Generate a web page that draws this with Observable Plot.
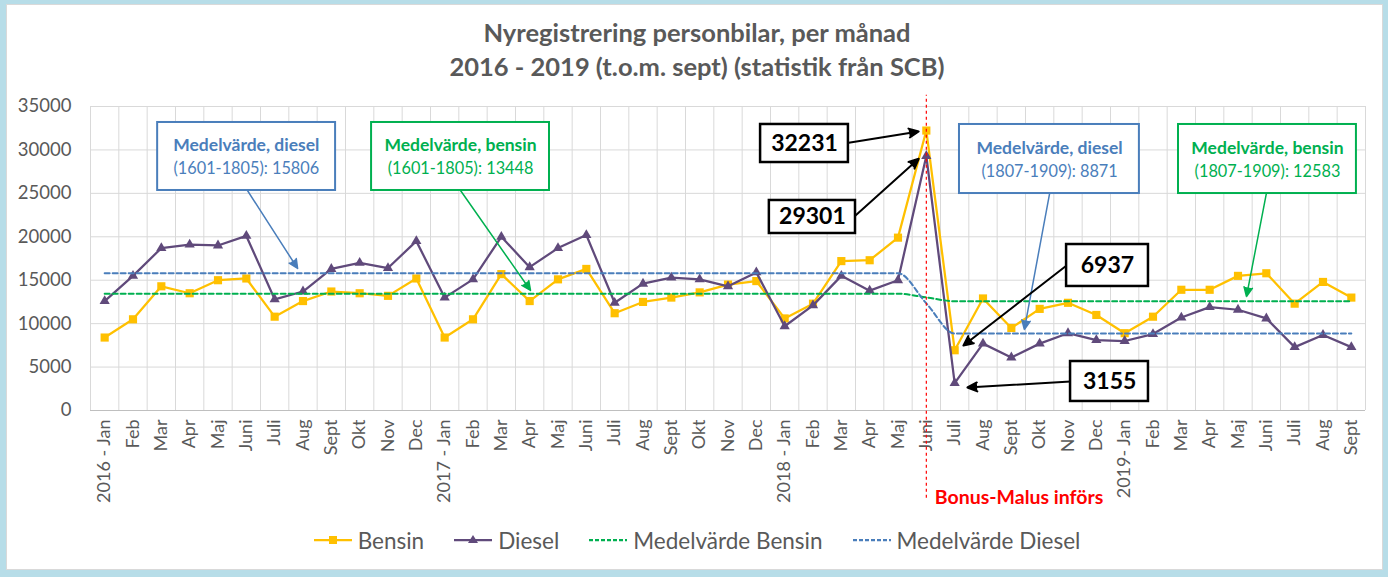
<!DOCTYPE html>
<html>
<head>
<meta charset="utf-8">
<script src="https://cdn.jsdelivr.net/npm/d3@7"></script>
<script src="https://cdn.jsdelivr.net/npm/@observablehq/plot@0.6"></script>
<style>
  html, body { margin: 0; padding: 0; background: #b7dde8; }
  #wrap { position: relative; width: 1388px; height: 577px; background: #b7dde8; overflow: hidden; font-family: Lato, "Open Sans", sans-serif; }
  #inner { position: absolute; left: 6px; top: 4px; right: 5px; bottom: 7px; background: #fff; border: 1px solid #d9d9d9; box-sizing: border-box; }
  #title { position: absolute; left: 3px; width: 1388px; top: 15px; text-align: center; color: #595959; font-weight: bold; font-size: 25.5px; line-height: 34px; }
  #plot { position: absolute; left: 0; top: 90px; }
  #legend { position: absolute; left: 3px; width: 1388px; top: 526px; height: 28px; display: flex; justify-content: center; align-items: center; color: #595959; font-size: 22.5px; }
  .item { display: flex; align-items: center; margin: 0 15px; }
  .item svg { margin-right: 6px; }
</style>
</head>
<body>
<div id="wrap">
  <div id="inner"></div>
  <div id="title">Nyregistrering personbilar, per månad<br>2016 - 2019 (t.o.m. sept) (statistik från SCB)</div>
  <div id="plot"></div>
  <div id="legend"></div>
</div>
<script>
// ---- data ----
const months = ["2016 - Jan","Feb","Mar","Apr","Maj","Juni","Juli","Aug","Sept","Okt","Nov","Dec",
  "2017 - Jan","Feb","Mar","Apr","Maj","Juni","Juli","Aug","Sept","Okt","Nov","Dec",
  "2018 - Jan","Feb","Mar","Apr","Maj","Juni","Juli","Aug","Sept","Okt","Nov","Dec",
  "2019- Jan","Feb","Mar","Apr","Maj","Juni","Juli","Aug","Sept"];

const bensin = [8400,10500,14300,13500,15000,15200,10800,12600,13700,13500,13200,15200,
  8400,10500,15700,12600,15100,16300,11200,12500,13000,13600,14500,14900,
  10600,12300,17200,17300,19900,32231,6937,12900,9500,11700,12400,11000,
  8900,10800,13900,13900,15500,15800,12300,14800,13000];

const diesel = [12600,15500,18700,19100,19000,20100,12800,13700,16300,17000,16400,19500,
  13000,15100,20000,16500,18700,20200,12400,14600,15300,15100,14300,15900,
  9700,12100,15500,13800,15000,29301,3155,7700,6100,7700,8900,8100,
  8000,8800,10700,11900,11600,10600,7300,8700,7300];

const medelBensin = [13448,13448,13448,13448,13448,13448,13448,13448,13448,13448,13448,13448,
  13448,13448,13448,13448,13448,13448,13448,13448,13448,13448,13448,13448,
  13448,13448,13448,13448,13448,13015,12583,12583,12583,12583,12583,12583,
  12583,12583,12583,12583,12583,12583,12583,12583,12583];

const medelDiesel = [15806,15806,15806,15806,15806,15806,15806,15806,15806,15806,15806,15806,
  15806,15806,15806,15806,15806,15806,15806,15806,15806,15806,15806,15806,
  15806,15806,15806,15806,15806,12338,8871,8871,8871,8871,8871,8871,
  8871,8871,8871,8871,8871,8871,8871,8871,8871];

const yTicks = [0,5000,10000,15000,20000,25000,30000,35000];

const seriesNames = ["Bensin","Diesel","Medelvärde Bensin","Medelvärde Diesel"];

// annotation layout (in data space: x = month index, y = value)
const BLUE = "#4a7ebb", GREEN = "#00b050", BLACK = "#000";
const meanBoxes = [
  {x1: 1.87, x2: 8.15, y1: 25330, y2: 33160, c: BLUE, t1: "Medelvärde, diesel", t2: "(1601-1805): 15806", tx: 5.0, ty1: 30510, ty2: 27860, ax: 5.04, ay: 25330, bx: 6.81, by: 16350},
  {x1: 9.42, x2: 15.70, y1: 25330, y2: 33160, c: GREEN, t1: "Medelvärde, bensin", t2: "(1601-1805): 13448", tx: 12.56, ty1: 30510, ty2: 27860, ax: 12.56, ay: 25330, bx: 15.03, by: 13820},
  {x1: 30.17, x2: 36.52, y1: 24980, y2: 32930, c: BLUE, t1: "Medelvärde, diesel", t2: "(1807-1909): 8871", tx: 33.35, ty1: 30160, ty2: 27440, ax: 33.35, ay: 24980, bx: 32.46, by: 9330},
  {x1: 37.90, x2: 44.18, y1: 24980, y2: 32930, c: GREEN, t1: "Medelvärde, bensin", t2: "(1807-1909): 12583", tx: 41.04, ty1: 30160, ty2: 27440, ax: 41.0, ay: 24980, bx: 40.3, by: 13130}
];
const valueBoxes = [
  {x1: 23.15, x2: 26.25, y1: 28550, y2: 32930, t: String(bensin[29]), tx: 24.70, ty: 30740, ax: 26.26, ay: 30820, bx: 28.73, by: 32120},
  {x1: 23.46, x2: 26.50, y1: 20380, y2: 24180, t: String(diesel[29]), tx: 24.98, ty: 22280, ax: 26.5, ay: 22450, bx: 28.73, by: 28980},
  {x1: 33.95, x2: 36.84, y1: 14280, y2: 19110, t: String(bensin[30]), tx: 35.39, ty: 16690, ax: 33.95, ay: 16690, bx: 30.31, by: 7480},
  {x1: 34.09, x2: 36.84, y1: 1040, y2: 5640, t: String(diesel[30]), tx: 35.47, ty: 3340, ax: 34.09, ay: 3340, bx: 30.45, by: 2650}
];
const bonusMalus = {x: 29, label: "Bonus-Malus införs"};

// ---- build table ----
const data = months.map((m, i) => ({i, m, bensin: bensin[i], diesel: diesel[i], mb: medelBensin[i], md: medelDiesel[i]}));
const gridX = d3.range(-0.5, months.length, 1);

const YELLOW = "#ffc000", PURPLE = "#604a7b", TXT = "#595959";

const chart = Plot.plot({
  width: 1388,
  height: 430,
  marginLeft: 90,
  marginRight: 23,
  marginTop: 16,
  marginBottom: 110,
  style: {background: "transparent", fontFamily: "Lato, 'Open Sans', sans-serif", overflow: "visible"},
  x: {type: "linear", domain: [-0.5, months.length - 0.5]},
  y: {domain: [0, 35000]},
  marks: [
    Plot.ruleY(yTicks, {stroke: "#d9d9d9", strokeWidth: 1}),
    Plot.ruleX(gridX, {stroke: "#d9d9d9", strokeWidth: 1}),
    Plot.ruleY([0], {stroke: "#bfbfbf", strokeWidth: 1.2}),
    Plot.axisY({ticks: yTicks, tickSize: 0, tickPadding: 19, fontSize: 18.5, color: TXT, label: null, tickFormat: d => String(d)}),
    Plot.axisX({ticks: data.map(d => d.i), tickSize: 0, tickPadding: 9, tickRotate: -90, fontSize: 18, color: TXT, label: null, tickFormat: i => months[i]}),
    // series
    Plot.line(data, {x: "i", y: "bensin", stroke: YELLOW, strokeWidth: 2.25}),
    Plot.dot(data, {x: "i", y: "bensin", symbol: "square", r: 4.6, fill: YELLOW, stroke: "none"}),
    Plot.line(data, {x: "i", y: "diesel", stroke: PURPLE, strokeWidth: 2.25}),
    Plot.dot(data, {x: "i", y: "diesel", symbol: "triangle", r: 3.8, fill: PURPLE, stroke: "none"}),
    Plot.line(data, {x: "i", y: "mb", stroke: GREEN, strokeWidth: 2, strokeDasharray: "5,3", curve: "monotone-x"}),
    Plot.line(data, {x: "i", y: "md", stroke: BLUE, strokeWidth: 2, strokeDasharray: "5,3", curve: "monotone-x"}),
    // bonus malus line
    Plot.ruleX([bonusMalus], {x: "x", y1: -10100, y2: 36300, stroke: "#ff0000", strokeWidth: 1.2, strokeDasharray: "3,3"}),
    Plot.text([bonusMalus], {x: d => d.x + 0.3, y: -10100, text: "label", textAnchor: "start", fill: "#ff0000", fontWeight: "bold", fontSize: 19.5}),
    // annotations: arrows
    Plot.arrow(meanBoxes, {x1: "ax", y1: "ay", x2: "bx", y2: "by", stroke: "c", fill: "c", strokeWidth: 1.5, headLength: 10, headAngle: 50}),
    Plot.arrow(valueBoxes, {x1: "ax", y1: "ay", x2: "bx", y2: "by", stroke: BLACK, fill: BLACK, strokeWidth: 2, headLength: 8, headAngle: 50}),
    // boxes
    Plot.rect(meanBoxes, {x1: "x1", x2: "x2", y1: "y1", y2: "y2", fill: "white", stroke: "c", strokeWidth: 2}),
    Plot.rect(valueBoxes, {x1: "x1", x2: "x2", y1: "y1", y2: "y2", fill: "white", stroke: BLACK, strokeWidth: 2.5}),
    Plot.text(meanBoxes, {x: "tx", y: "ty1", text: "t1", fill: "c", fontWeight: "bold", fontSize: 17.5}),
    Plot.text(meanBoxes, {x: "tx", y: "ty2", text: "t2", fill: "c", fontSize: 16.3}),
    Plot.text(valueBoxes, {x: "tx", y: "ty", text: "t", fill: BLACK, fontWeight: "bold", fontSize: 23})
  ]
});
document.getElementById("plot").appendChild(chart);

// ---- legend ----
const legendSpec = [
  {name: seriesNames[0], color: YELLOW, dash: null, marker: "square"},
  {name: seriesNames[1], color: PURPLE, dash: null, marker: "triangle"},
  {name: seriesNames[2], color: GREEN, dash: "4,2", marker: null},
  {name: seriesNames[3], color: BLUE, dash: "4,2", marker: null}
];
const legend = document.getElementById("legend");
for (const s of legendSpec) {
  const item = document.createElement("div");
  item.className = "item";
  let m = "";
  if (s.marker === "square") m = `<rect x="15" y="6" width="8" height="8" fill="${s.color}"/>`;
  if (s.marker === "triangle") m = `<path d="M19,5 L24,13 L14,13 Z" fill="${s.color}"/>`;
  item.innerHTML = `<svg width="38" height="20"><line x1="0" y1="10" x2="38" y2="10" stroke="${s.color}" stroke-width="2.25" ${s.dash ? `stroke-dasharray="${s.dash}"` : ""}/>${m}</svg><span>${s.name}</span>`;
  legend.appendChild(item);
}
</script>
</body>
</html>
